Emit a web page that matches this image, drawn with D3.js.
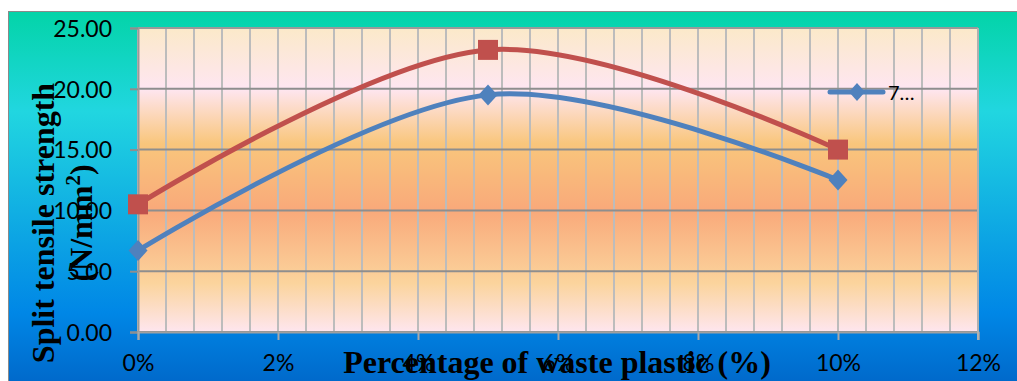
<!DOCTYPE html>
<html>
<head>
<meta charset="utf-8">
<script src="https://cdn.jsdelivr.net/npm/d3@7"></script>
<style>
  html, body { margin: 0; padding: 0; background: #ffffff; }
  svg { display: block; }
</style>
</head>
<body>
<svg id="chart" width="1017" height="381"></svg>
<script>
// Split tensile strength vs. percentage of waste plastic
const percentages = [0, 5, 10];
const seriesNames = ["7 days", "28 days"];
const strength7 = [6.7, 19.5, 12.5];
const strength28 = [10.5, 23.2, 15.0];
const yTickValues = [0, 5, 10, 15, 20, 25];
const xTickValues = [0, 2, 4, 6, 8, 10, 12];
const legendLabel = "7…";

const svg = d3.select("#chart");
const W = 1017, H = 381;
const plot = { left: 138, right: 978, top: 28, bottom: 332 };

const x = d3.scaleLinear().domain([0, 12]).range([plot.left, plot.right]);
const y = d3.scaleLinear().domain([0, 25]).range([plot.bottom, plot.top]);

const defs = svg.append("defs");

// chart area fill ("ocean" style)
const outerGrad = defs.append("linearGradient")
  .attr("id", "outerFill").attr("x1", 0).attr("y1", 0).attr("x2", 0).attr("y2", 1);
[[0, "#03d4a8"], [0.25, "#21d6e0"], [0.75, "#0087e6"], [1, "#005cbf"]]
  .forEach(([o, c]) => outerGrad.append("stop").attr("offset", o).attr("stop-color", c));

// plot area fill (warm multi-stop)
const innerGrad = defs.append("linearGradient")
  .attr("id", "innerFill").attr("x1", 0).attr("y1", 0).attr("x2", 0).attr("y2", 1);
[[0, "#fbe9c9"], [0.2, "#fee6f1"], [0.38, "#f9c67c"], [0.6, "#f9a97a"], [0.84, "#fbd49d"], [1, "#fee6ef"]]
  .forEach(([o, c]) => innerGrad.append("stop").attr("offset", o).attr("stop-color", c));

svg.append("rect")
  .attr("x", 8.5).attr("y", 11.5).attr("width", W).attr("height", H + 20)
  .attr("fill", "url(#outerFill)").attr("stroke", "#8a8a8a").attr("stroke-width", 1);

svg.append("rect")
  .attr("x", plot.left).attr("y", plot.top)
  .attr("width", plot.right - plot.left).attr("height", plot.bottom - plot.top)
  .attr("fill", "url(#innerFill)");

// minor vertical gridlines every 0.4 %
const vGrid = d3.range(0, 31).map(i => i * 0.4);
svg.append("g").selectAll("line").data(vGrid).join("line")
  .attr("x1", d => x(d)).attr("x2", d => x(d))
  .attr("y1", plot.top).attr("y2", plot.bottom)
  .attr("stroke", "#bcbcbc").attr("stroke-width", 2);

// horizontal gridlines
svg.append("g").selectAll("line").data(yTickValues).join("line")
  .attr("x1", plot.left).attr("x2", plot.right)
  .attr("y1", d => y(d)).attr("y2", d => y(d))
  .attr("stroke", "#8e8e8e").attr("stroke-width", 2);

// top border of the plot area
svg.append("line")
  .attr("x1", plot.left).attr("x2", plot.right)
  .attr("y1", plot.top).attr("y2", plot.top)
  .attr("stroke", "#9a9a9a").attr("stroke-width", 2);

// axes
const yAxis = d3.axisLeft(y).tickValues(yTickValues).tickSize(8).tickPadding(18)
  .tickFormat(d3.format(".2f"));
const gy = svg.append("g").attr("transform", `translate(${plot.left},0)`).call(yAxis);
gy.select(".domain").attr("stroke", "#9a9a9a").attr("stroke-width", 2);
gy.selectAll(".tick line").attr("stroke", "#8e8e8e").attr("stroke-width", 2);
gy.selectAll(".tick text")
  .attr("font-family", "Lato, 'Liberation Sans', sans-serif")
  .attr("font-size", 23).attr("fill", "#000").attr("dy", "0.36em");

const xAxis = d3.axisBottom(x).tickValues(xTickValues).tickSize(8).tickPadding(18)
  .tickFormat(d => d + "%");
const gx = svg.append("g").attr("transform", `translate(0,${plot.bottom})`).call(xAxis);
gx.select(".domain").attr("stroke", "#a0a0a0").attr("stroke-width", 2);
gx.selectAll(".tick line").attr("stroke", "#a8a8a8").attr("stroke-width", 2);
gx.selectAll(".tick text")
  .attr("font-family", "Lato, 'Liberation Sans', sans-serif")
  .attr("font-size", 23).attr("fill", "#000").attr("dy", "0.58em");

// right border of the plot area
svg.append("line")
  .attr("x1", plot.right).attr("x2", plot.right)
  .attr("y1", plot.top).attr("y2", plot.bottom + 8)
  .attr("stroke", "#b0b0b0").attr("stroke-width", 2);

// series
const series = [
  { name: seriesNames[0], values: strength7, color: "#4f81bd", marker: "diamond" },
  { name: seriesNames[1], values: strength28, color: "#c0504d", marker: "square" }
];

const line = d3.line()
  .x((d, i) => x(percentages[i]))
  .y(d => y(d))
  .curve(d3.curveCardinal.tension(0));

const diamond = (cx, cy, w, h) => `M${cx},${cy - h / 2}L${cx + w / 2},${cy}L${cx},${cy + h / 2}L${cx - w / 2},${cy}Z`;

series.forEach(s => {
  svg.append("path")
    .attr("d", line(s.values))
    .attr("fill", "none").attr("stroke", s.color)
    .attr("stroke-width", 5).attr("stroke-linecap", "round").attr("stroke-linejoin", "round");

  const g = svg.append("g");
  s.values.forEach((v, i) => {
    const cx = x(percentages[i]), cy = y(v);
    if (s.marker === "square") {
      g.append("rect").attr("x", cx - 10).attr("y", cy - 10)
        .attr("width", 20).attr("height", 20).attr("fill", s.color);
    } else {
      g.append("path").attr("d", diamond(cx, cy, 19, 21)).attr("fill", s.color);
    }
  });
});

// legend (single visible entry)
const lg = svg.append("g");
lg.append("line").attr("x1", 830).attr("x2", 883).attr("y1", 92).attr("y2", 92)
  .attr("stroke", series[0].color).attr("stroke-width", 5).attr("stroke-linecap", "round");
lg.append("path").attr("d", diamond(857, 92, 16, 18)).attr("fill", series[0].color);
lg.append("text").attr("x", 888).attr("y", 100)
  .attr("font-family", "Lato, 'Liberation Sans', sans-serif")
  .attr("font-size", 20).attr("fill", "#000").text(legendLabel);

// axis titles
svg.append("text")
  .attr("x", 557).attr("y", 373).attr("text-anchor", "middle")
  .attr("font-family", "'Liberation Serif', 'Times New Roman', serif")
  .attr("font-weight", "bold").attr("font-size", 32).attr("fill", "#000")
  .text("Percentage of waste plastic (%)");

const yTitle = svg.append("g").attr("transform", "translate(54,223) rotate(-90)")
  .append("text")
  .attr("text-anchor", "middle")
  .attr("font-family", "'Liberation Serif', 'Times New Roman', serif")
  .attr("font-weight", "bold").attr("font-size", 32).attr("fill", "#000");
yTitle.append("tspan").attr("x", 0).attr("y", 0).text("Split tensile strength");
yTitle.append("tspan").attr("x", 0).attr("y", 38).text("(N/mm");
yTitle.append("tspan").attr("font-size", 21).attr("dy", -12).text("2");
yTitle.append("tspan").attr("dy", 12).text(")");
</script>
</body>
</html>
